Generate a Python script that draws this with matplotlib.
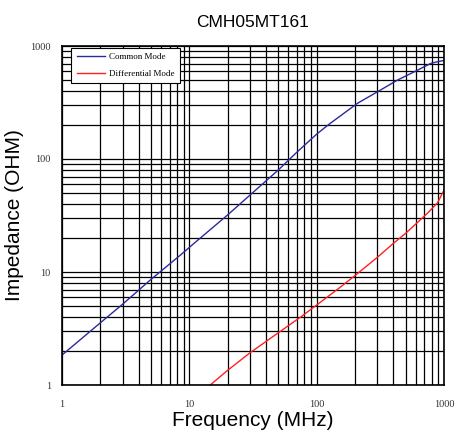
import matplotlib
matplotlib.use("Agg")
import matplotlib.pyplot as plt
from matplotlib.ticker import LogLocator, NullFormatter, FixedLocator, FixedFormatter

# Data
cm_freq = [1, 2, 3, 5, 8.5, 11, 20, 30, 50, 70, 100, 125, 150, 209, 300, 432, 600, 790, 900, 1000]
cm_imp = [1.84, 3.55, 5.2, 8.6, 14.1, 18.1, 32, 48, 80, 115, 166, 203, 236, 311, 393, 500, 600, 703, 728, 745]

dm_freq = [14.6, 20, 30, 50, 75, 100, 150, 200, 300, 400, 500, 620, 750, 890, 1000]
dm_imp = [1.0, 1.35, 1.93, 2.9, 4.0, 5.1, 7.2, 9.3, 13.5, 17.9, 22, 27.5, 33.5, 41, 53]

xticks = [1, 10, 100, 1000]
xticklabels = ["1", "10", "100", "1000"]
yticks = [1, 10, 100, 1000]
yticklabels = ["1", "10", "100", "1000"]

fig = plt.figure(figsize=(4.56, 4.36), dpi=100)
ax = fig.add_axes([62/456, 1-385/436, 382/456, 339/436])

ax.plot(cm_freq, cm_imp, color="#2a2a9c", lw=1.0, label="Common Mode")
ax.plot(dm_freq, dm_imp, color="#ff2020", lw=1.0, label="Differential Mode")

ax.set_xscale("log")
ax.set_yscale("log")
ax.set_xlim(1, 1000)
ax.set_ylim(1, 1000)

ax.xaxis.set_major_locator(FixedLocator(xticks))
ax.xaxis.set_major_formatter(FixedFormatter(xticklabels))
ax.yaxis.set_major_locator(FixedLocator(yticks))
ax.yaxis.set_major_formatter(FixedFormatter(yticklabels))
ax.xaxis.set_minor_locator(LogLocator(base=10, subs=range(2, 10)))
ax.yaxis.set_minor_locator(LogLocator(base=10, subs=range(2, 10)))
ax.xaxis.set_minor_formatter(NullFormatter())
ax.yaxis.set_minor_formatter(NullFormatter())

ax.grid(True, which="both", color="black", lw=0.9)
ax.set_axisbelow(True)
ax.tick_params(which="both", length=0)
ax.tick_params(axis="x", pad=11)
ax.tick_params(axis="y", pad=8)
for lab in ax.get_xticklabels() + ax.get_yticklabels():
    lab.set_fontfamily("Liberation Serif")
    lab.set_fontsize(7.5)
    lab.set_color("#333333")
for sp in ax.spines.values():
    sp.set_color("black")
    sp.set_linewidth(1.2)

ax.set_xlabel("Frequency (MHz)", family="Liberation Sans", fontsize=15, labelpad=1)
ax.set_ylabel("Impedance (OHM)", family="Liberation Sans", fontsize=15)
ax.yaxis.set_label_coords(-0.10, 0.5)
ax.set_title("CMH05MT161", family="Liberation Sans", fontsize=12.5, pad=14)

leg = ax.legend(loc="upper left", bbox_to_anchor=(0.024, 0.995), fancybox=False,
                frameon=True, edgecolor="black", framealpha=1,
                prop={"family": "Liberation Serif", "size": 6.5},
                handlelength=3.2, borderpad=0.6, labelspacing=0.9, handletextpad=0.4, borderaxespad=0)
leg.get_frame().set_linewidth(0.8)

fig.savefig("out.png", dpi=100)
